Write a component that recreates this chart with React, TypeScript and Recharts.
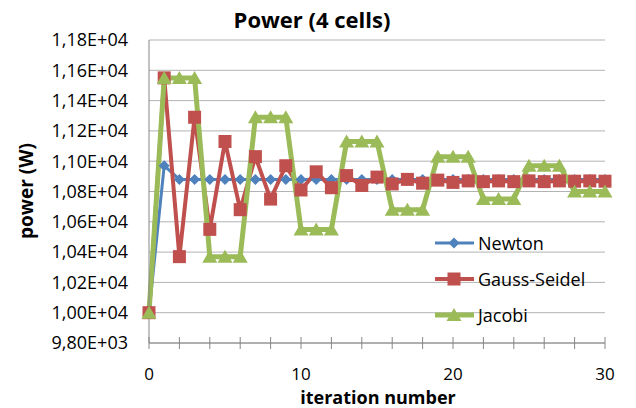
import React from "react";
import { LineChart, Line, XAxis, YAxis, CartesianGrid } from "recharts";

const iterations = [0, 1, 2, 3, 4, 5, 6, 7, 8, 9, 10, 11, 12, 13, 14, 15, 16, 17, 18, 19, 20, 21, 22, 23, 24, 25, 26, 27, 28, 29, 30];

const newton = [
  10000, 10970, 10880, 10880, 10880, 10880, 10880, 10880, 10880, 10880, 10880,
  10880, 10880, 10880, 10880, 10880, 10880, 10880, 10880, 10880, 10880,
  10880, 10880, 10880, 10880, 10880, 10880, 10880, 10880, 10880, 10880,
];

const gaussSeidel = [
  10000, 11550, 10370, 11290, 10550, 11130, 10680, 11030, 10750, 10970, 10810,
  10930, 10825, 10905, 10840, 10895, 10850, 10880, 10855, 10875, 10860,
  10870, 10865, 10870, 10865, 10870, 10865, 10870, 10868, 10870, 10868,
];

const jacobi = [
  10000, 11550, 11550, 11550, 10370, 10370, 10370, 11290, 11290, 11290, 10550,
  10550, 10550, 11130, 11130, 11130, 10680, 10680, 10680, 11030, 11030,
  11030, 10750, 10750, 10750, 10970, 10970, 10970, 10800, 10800, 10800,
];

const yTicks = [9800, 10000, 10200, 10400, 10600, 10800, 11000, 11200, 11400, 11600, 11800];
const xTicks = [0, 2, 4, 6, 8, 10, 12, 14, 16, 18, 20, 22, 24, 26, 28, 30];
const xLabels = [0, 10, 20, 30];

const seriesNames = ["Newton", "Gauss-Seidel", "Jacobi"];

const BLUE = "#4F81BD";
const RED = "#C0504D";
const GREEN = "#9BBB59";
const AXIS = "#868686";
const FONT = "'Open Sans', Lato, sans-serif";

const data = iterations.map((it, i) => ({
  it,
  newton: newton[i],
  gauss: gaussSeidel[i],
  jacobi: jacobi[i],
}));

// Excel-like "1,18E+04"
function sci(v: number) {
  const exp = Math.floor(Math.log10(v));
  const m = v / Math.pow(10, exp);
  return m.toFixed(2).replace(".", ",") + "E+" + String(exp).padStart(2, "0");
}

function diamond(cx: number, cy: number, r: number) {
  return `M${cx},${cy - r}L${cx + r},${cy}L${cx},${cy + r}L${cx - r},${cy}Z`;
}
function triangle(cx: number, cy: number) {
  return `M${cx},${cy - 7}L${cx + 7.5},${cy + 6}L${cx - 7.5},${cy + 6}Z`;
}

const diamondDot = (p: any) => {
  if (p.cx == null || p.cy == null) return <g key={p.index} />;
  return <path key={p.index} d={diamond(p.cx, p.cy, 5.5)} fill={BLUE} />;
};
const squareDot = (p: any) => {
  if (p.cx == null || p.cy == null) return <g key={p.index} />;
  return <rect key={p.index} x={p.cx - 6.5} y={p.cy - 6.5} width={13} height={13} fill={RED} />;
};
const triangleDot = (p: any) => {
  if (p.cx == null || p.cy == null) return <g key={p.index} />;
  return <path key={p.index} d={triangle(p.cx, p.cy)} fill={GREEN} />;
};

function XTick(props: any) {
  const { x, y, payload } = props;
  const v = payload.value;
  return (
    <g>
      <line x1={x} x2={x} y1={y - 6} y2={y + 6} stroke={AXIS} />
      {xLabels.includes(v) && (
        <text x={x} y={y + 37} textAnchor="middle" fontSize={17} fill="#000" fontFamily={FONT}>
          {v}
        </text>
      )}
    </g>
  );
}

export default function App() {
  const legendRows = [
    { name: seriesNames[0], color: BLUE, y: 250, w: 3 },
    { name: seriesNames[1], color: RED, y: 286, w: 4 },
    { name: seriesNames[2], color: GREEN, y: 322, w: 5 },
  ];

  return (
    <div style={{ position: "absolute", left: 0, top: 0, width: 636, height: 408, background: "#fff" }}>
      <LineChart width={636} height={408} data={data} margin={{ top: 40, right: 31, bottom: 0, left: 49 }}>
        <CartesianGrid vertical={false} stroke="#b3b3b3" />
        <XAxis
          dataKey="it"
          type="number"
          domain={[0, 30]}
          ticks={xTicks}
          height={65}
          tickSize={0}
          tickMargin={0}
          tickLine={false}
          axisLine={{ stroke: AXIS }}
          tick={<XTick />}
          interval={0}
        />
        <YAxis
          type="number"
          domain={[9800, 11800]}
          ticks={yTicks}
          width={100}
          tickSize={0}
          tickMargin={21}
          tickLine={false}
          axisLine={{ stroke: AXIS }}
          tickFormatter={sci}
          tick={{ fontSize: 18, fill: "#000", fontFamily: FONT }}
          interval={0}
        />
        <Line dataKey="newton" type="linear" stroke={BLUE} strokeWidth={3} dot={diamondDot} activeDot={false} isAnimationActive={false} />
        <Line dataKey="gauss" type="linear" stroke={RED} strokeWidth={4} dot={squareDot} activeDot={false} isAnimationActive={false} />
        <Line dataKey="jacobi" type="linear" stroke={GREEN} strokeWidth={5} dot={triangleDot} activeDot={false} isAnimationActive={false} />
      </LineChart>
      <svg
        width={636}
        height={408}
        style={{ position: "absolute", left: 0, top: 0, pointerEvents: "none" }}
        fontFamily={FONT}
      >
        <text x={312} y={28} textAnchor="middle" fontSize={22} fontWeight="bold">
          Power (4 cells)
        </text>
        <text x={33} y={191} textAnchor="middle" fontSize={19} fontWeight="bold" transform="rotate(-90 33 191)">
          power (W)
        </text>
        <text x={378} y={404} textAnchor="middle" fontSize={18} fontWeight="bold">
          iteration number
        </text>
        {legendRows.map((r, i) => (
          <g key={r.name}>
            <line x1={435} x2={474} y1={r.y - 7} y2={r.y - 7} stroke={r.color} strokeWidth={r.w} />
            {i === 0 && <path d={diamond(454, r.y - 7, 5.5)} fill={r.color} />}
            {i === 1 && <rect x={447.5} y={r.y - 13.5} width={13} height={13} fill={r.color} />}
            {i === 2 && <path d={triangle(454, r.y - 7)} fill={r.color} />}
            <text x={478} y={r.y} fontSize={18} fill="#000">
              {r.name}
            </text>
          </g>
        ))}
      </svg>
    </div>
  );
}
